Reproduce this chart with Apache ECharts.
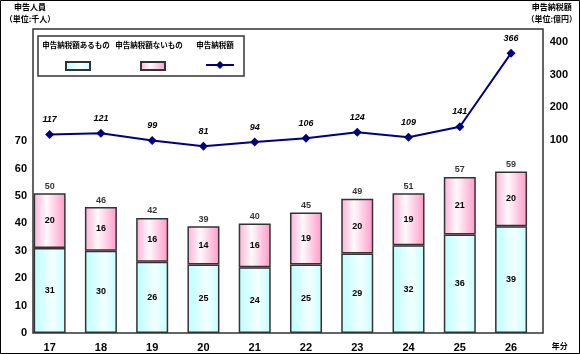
<!DOCTYPE html>
<html>
<head>
<meta charset="utf-8">
<script src="https://cdn.jsdelivr.net/npm/echarts@6/dist/echarts.min.js"></script>
<style>
  html, body { margin: 0; padding: 0; background: #fff; }
  #chart { width: 580px; height: 354px; }
</style>
</head>
<body>
<div id="chart"></div>
<script>
  // 年分 (平成)
  const years = ['17', '18', '19', '20', '21', '22', '23', '24', '25', '26']
  // 申告人員 (千人)
  const withTax = [31, 30, 26, 25, 24, 25, 29, 32, 36, 39]
  const withoutTax = [20, 16, 16, 14, 16, 19, 20, 19, 21, 20]
  const totals = [50, 46, 42, 39, 40, 45, 49, 51, 57, 59]
  // 申告納税額 (億円)
  const taxAmount = [117, 121, 99, 81, 94, 106, 124, 109, 141, 366]

  const leftLabels = [0, 10, 20, 30, 40, 50, 60, 70]
  const rightLabels = [100, 200, 300, 400]

  const numFont = "'Liberation Sans', 'Noto Sans CJK JP', sans-serif"
  const jpFont = "'Noto Sans CJK JP', sans-serif"

  const cyanFill = new echarts.graphic.LinearGradient(0, 0, 1, 0, [
    {offset: 0, color: '#BCFFFF'},
    {offset: 0.6, color: '#F4FFFF'},
    {offset: 1, color: '#C4FFFF'}
  ])
  const pinkFill = new echarts.graphic.LinearGradient(0, 0, 1, 0, [
    {offset: 0, color: '#FFB0D6'},
    {offset: 0.4, color: '#FFFAFC'},
    {offset: 1, color: '#FF99C9'}
  ])

  const chart = echarts.init(document.getElementById('chart'))
  chart.setOption({
    animation: false,
    grid: {left: 24, right: 40, top: 29, bottom: 21},
    legend: [{
      data: [{name: '申告納税額あるもの', icon: 'rect'}], left: 60, top: 56,
      itemWidth: 24, itemHeight: 8, formatter: () => '', selectedMode: false
    }, {
      data: [{name: '申告納税額ないもの', icon: 'rect'}], left: 135, top: 56,
      itemWidth: 24, itemHeight: 8, formatter: () => '', selectedMode: false
    }, {
      data: ['申告納税額'], left: 200, top: 55,
      itemWidth: 28, itemHeight: 10, formatter: () => '', selectedMode: false
    }],
    xAxis: {
      type: 'category',
      data: years,
      axisLine: {show: false},
      axisTick: {show: false},
      axisLabel: {margin: 9, color: '#000', fontWeight: 'bold', fontSize: 11, fontFamily: numFont},
      name: '年分',
      nameLocation: 'end',
      nameGap: 15,
      nameTextStyle: {
        color: '#000', fontWeight: 'bold', fontSize: 8, fontFamily: jpFont,
        verticalAlign: 'top', padding: [9, 0, 0, 0]
      }
    },
    yAxis: [{
      type: 'value',
      position: 'left',
      offset: -9,
      min: 0,
      max: 111,
      interval: 10,
      splitLine: {show: false},
      axisLine: {show: false},
      axisTick: {show: false},
      axisLabel: {
        margin: 6, color: '#000', fontWeight: 'bold', fontSize: 11, fontFamily: numFont,
        formatter: v => leftLabels.indexOf(v) >= 0 ? String(v) : ''
      },
      name: '申告人員\n（単位:千人）',
      nameLocation: 'end',
      nameGap: 4,
      nameTextStyle: {
        color: '#000', fontWeight: 'bold', fontSize: 8, fontFamily: jpFont,
        align: 'center', lineHeight: 12, padding: [0, 6, 0, 0]
      }
    }, {
      type: 'value',
      position: 'right',
      offset: 3,
      min: -490,
      max: 440,
      interval: 10,
      splitLine: {show: false},
      axisLine: {show: false},
      axisTick: {show: false},
      axisLabel: {
        margin: 10, color: '#000', fontWeight: 'bold', fontSize: 11, fontFamily: numFont,
        formatter: v => rightLabels.indexOf(v) >= 0 ? String(v) : ''
      },
      name: '申告納税額\n（単位:億円）',
      nameLocation: 'end',
      nameGap: 4,
      nameTextStyle: {
        color: '#000', fontWeight: 'bold', fontSize: 8, fontFamily: jpFont,
        align: 'center', lineHeight: 12, padding: [0, 0, 0, 24]
      }
    }],
    series: [{
      name: '申告納税額あるもの',
      type: 'bar',
      stack: 'people',
      barWidth: 32,
      itemStyle: {color: cyanFill, borderColor: '#333', borderWidth: 1.5},
      label: {
        show: true, position: 'inside', color: '#000',
        fontWeight: 'bold', fontSize: 9, fontFamily: numFont
      },
      data: withTax
    }, {
      name: '申告納税額ないもの',
      type: 'bar',
      stack: 'people',
      barWidth: 32,
      itemStyle: {color: pinkFill, borderColor: '#333', borderWidth: 1.5},
      label: {
        show: true, position: 'inside', color: '#000',
        fontWeight: 'bold', fontSize: 9, fontFamily: numFont
      },
      data: withoutTax
    }, {
      // totals written above each stacked bar
      type: 'scatter',
      symbolSize: 1,
      itemStyle: {color: 'rgba(0,0,0,0)'},
      silent: true,
      label: {
        show: true, position: 'top', distance: 2, color: '#000',
        fontWeight: 'bold', fontSize: 9, fontFamily: numFont,
        formatter: p => String(totals[p.dataIndex])
      },
      data: withTax.map((v, i) => v + withoutTax[i])
    }, {
      name: '申告納税額',
      type: 'line',
      yAxisIndex: 1,
      symbol: 'diamond',
      symbolSize: 9,
      color: '#000080',
      lineStyle: {width: 2, color: '#000080'},
      itemStyle: {color: '#000080'},
      label: {
        show: true, position: 'top', distance: 6, color: '#000',
        fontWeight: 'bold', fontStyle: 'italic', fontSize: 9, fontFamily: numFont
      },
      data: taxAmount
    }],
    graphic: [
      // outer frame
      {type: 'rect', shape: {x: 0.5, y: 0.5, width: 579, height: 353},
        style: {fill: 'none', stroke: '#000', lineWidth: 1}, silent: true},
      // plot frame
      {type: 'rect', shape: {x: 33, y: 29, width: 510, height: 304},
        style: {fill: 'none', stroke: '#333', lineWidth: 1.5}, silent: true, z: 10},
      // legend box and texts
      {type: 'rect', shape: {x: 38, y: 36, width: 206, height: 40},
        style: {fill: 'none', stroke: '#333', lineWidth: 1.5}, silent: true},
      {type: 'text', x: 76, y: 45, silent: true,
        style: {text: '申告納税額あるもの', fill: '#000', font: 'bold 7.5px ' + jpFont, align: 'center', verticalAlign: 'middle'}},
      {type: 'text', x: 149, y: 45, silent: true,
        style: {text: '申告納税額ないもの', fill: '#000', font: 'bold 7.5px ' + jpFont, align: 'center', verticalAlign: 'middle'}},
      {type: 'text', x: 215, y: 45, silent: true,
        style: {text: '申告納税額', fill: '#000', font: 'bold 7.5px ' + jpFont, align: 'center', verticalAlign: 'middle'}}
    ]
  })
</script>
</body>
</html>
